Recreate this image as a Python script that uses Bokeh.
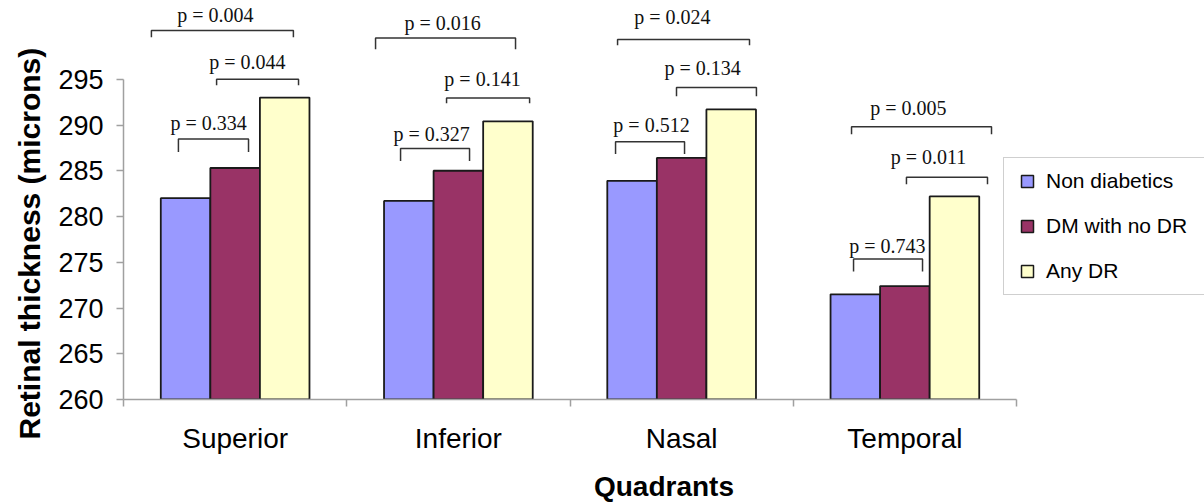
import numpy as np
from bokeh.plotting import figure
from bokeh.models import (ColumnDataSource, Range1d, FixedTicker, Legend, LegendItem, Title)
from bokeh.core.properties import value
from bokeh.embed import file_html
from bokeh.resources import INLINE

# ---------------- data ----------------
categories = ["Superior", "Inferior", "Nasal", "Temporal"]
series_names = ["Non diabetics", "DM with no DR", "Any DR"]
non_diabetics = [282.0, 281.7, 283.9, 271.5]
dm_no_dr = [285.3, 285.0, 286.4, 272.4]
any_dr = [293.0, 290.4, 291.7, 282.2]
# p-values per quadrant: (non vs DM, DM vs any DR, non vs any DR)
p_non_dm = ["0.334", "0.327", "0.512", "0.743"]
p_dm_any = ["0.044", "0.141", "0.134", "0.011"]
p_non_any = ["0.004", "0.016", "0.024", "0.005"]
y_ticks = [260, 265, 270, 275, 280, 285, 290, 295]

colors = ["#9999FF", "#993366", "#FFFFCC"]

# -------- bracket layout (x relative to category left edge, y in data units) --------
# (x0, x1, y_bar, y_end, text_x, text_y)
bracket_layout = {
    "non_dm": [(0.246, 0.560, 288.46, 287.04, 0.381, 290.2),
               (0.241, 0.550, 287.44, 286.06, 0.380, 289.0),
               (0.204, 0.513, 288.16, 286.82, 0.365, 289.98),
               (0.270, 0.579, 275.37, 273.99, 0.422, 276.82)],
    "dm_any": [(0.417, 0.784, 295.0, 294.35, 0.555, 296.85),
               (0.447, 0.819, 292.96, 292.38, 0.608, 295.0),
               (0.477, 0.835, 294.1, 293.15, 0.594, 296.2),
               (0.507, 0.870, 284.28, 283.52, 0.606, 286.53)],
    "non_any": [(0.125, 0.761, 300.34, 299.58, 0.412, 301.98),
                (0.129, 0.756, 299.5, 298.27, 0.429, 301.2),
                (0.213, 0.804, 299.36, 298.71, 0.459, 301.76),
                (0.261, 0.888, 289.80, 289.0, 0.516, 291.87)],
}

AXIS_GREY = "#A0A0A0"

# frame spans to the right edge so the legend can sit beside the bars
p = figure(width=1204, height=504, output_backend="svg", toolbar_location=None,
           x_range=Range1d(0.5, 5.342), y_range=Range1d(260, 303.61),
           min_border_left=123, min_border_right=0, min_border_top=0,
           min_border_bottom=104)
p.outline_line_color = None
p.grid.grid_line_color = None
p.background_fill_color = "white"

xc = np.arange(1, len(categories) + 1)
bar_w = 0.222
series = [non_diabetics, dm_no_dr, any_dr]
offsets = [-bar_w, 0.0, bar_w]
for vals, off, col in zip(series, offsets, colors):
    src = ColumnDataSource(dict(x=xc + off, top=vals))
    p.vbar(x="x", top="top", bottom=260, width=bar_w, source=src,
           fill_color=col, line_color="#1a1a1a", line_width=1.8)

# brackets
xs, ys, tx, ty, tt = [], [], [], [], []
for key, pv in (("non_dm", p_non_dm), ("dm_any", p_dm_any), ("non_any", p_non_any)):
    for i, (x0, x1, yb, ye, txx, tyy) in enumerate(bracket_layout[key]):
        left = xc[i] - 0.5
        xs.append([left + x0, left + x0, left + x1, left + x1])
        ys.append([ye, yb, yb, ye])
        tx.append(left + txx)
        ty.append(tyy)
        tt.append("p = " + pv[i])
p.multi_line(xs=xs, ys=ys, line_color="#333333", line_width=1.5)
p.text(x=tx, y=ty, text=tt, text_align="center", text_baseline="middle",
       text_font=value("Liberation Serif"), text_font_size="20px", text_color="#111111")

# axes
xa = p.xaxis[0]
xa.ticker = FixedTicker(ticks=list(xc), minor_ticks=[0.5, 1.5, 2.5, 3.5, 4.5])
xa.bounds = (0.5, 4.5)
xa.major_label_overrides = {int(i): c for i, c in zip(xc, categories)}
xa.axis_line_color = AXIS_GREY
xa.axis_line_width = 1.5
xa.major_tick_line_color = None
xa.major_tick_out = 7
xa.major_tick_in = 0
xa.minor_tick_line_color = AXIS_GREY
xa.minor_tick_line_width = 1.5
xa.minor_tick_out = 7
xa.minor_tick_in = 0
xa.major_label_text_font = "Liberation Sans"
xa.major_label_text_font_size = "28px"
xa.major_label_text_color = "black"
xa.major_label_standoff = 16
xa.axis_label = "Quadrants"
xa.axis_label_text_font = "Liberation Sans"
xa.axis_label_text_font_style = "bold"
xa.axis_label_text_font_size = "28px"
xa.axis_label_text_color = "black"
xa.axis_label_standoff = 14

ya = p.yaxis[0]
ya.ticker = FixedTicker(ticks=y_ticks)
ya.bounds = (260, 295)
ya.axis_line_color = AXIS_GREY
ya.axis_line_width = 1.5
ya.major_tick_line_color = AXIS_GREY
ya.major_tick_line_width = 1.5
ya.major_tick_out = 7
ya.major_tick_in = 0
ya.minor_tick_line_color = None
ya.major_label_text_font = "Liberation Sans"
ya.major_label_text_font_size = "27px"
ya.major_label_text_color = "black"
ya.major_label_standoff = 13

# y-axis title placed along the 260-295 span, reading bottom to top
ytitle = Title(text="Retinal thickness (microns)", align="left", offset=-40,
               text_font="Liberation Sans", text_font_style="bold",
               text_font_size="30px", text_color="black", standoff=20)
p.add_layout(ytitle, "left")

# legend: square markers placed outside the visible range, used only as legend keys
items = []
for name, col in zip(series_names, colors):
    s = p.scatter(x=[0], y=[0], marker="square", size=12, fill_color=col,
                  line_color="#1a1a1a", line_width=1.5)
    items.append(LegendItem(label=name, renderers=[s]))
legend = Legend(items=items, location=(880, 104), orientation="vertical",
                glyph_width=30, glyph_height=30, spacing=15, padding=8,
                label_standoff=4, label_width=150, label_text_font="Liberation Sans",
                label_text_font_size="21px", label_text_color="black",
                border_line_color=AXIS_GREY, border_line_width=1.5,
                background_fill_color="white", background_fill_alpha=1.0,
                margin=0)
p.add_layout(legend, "center")

open("out.html", "w").write(file_html(p, INLINE))
